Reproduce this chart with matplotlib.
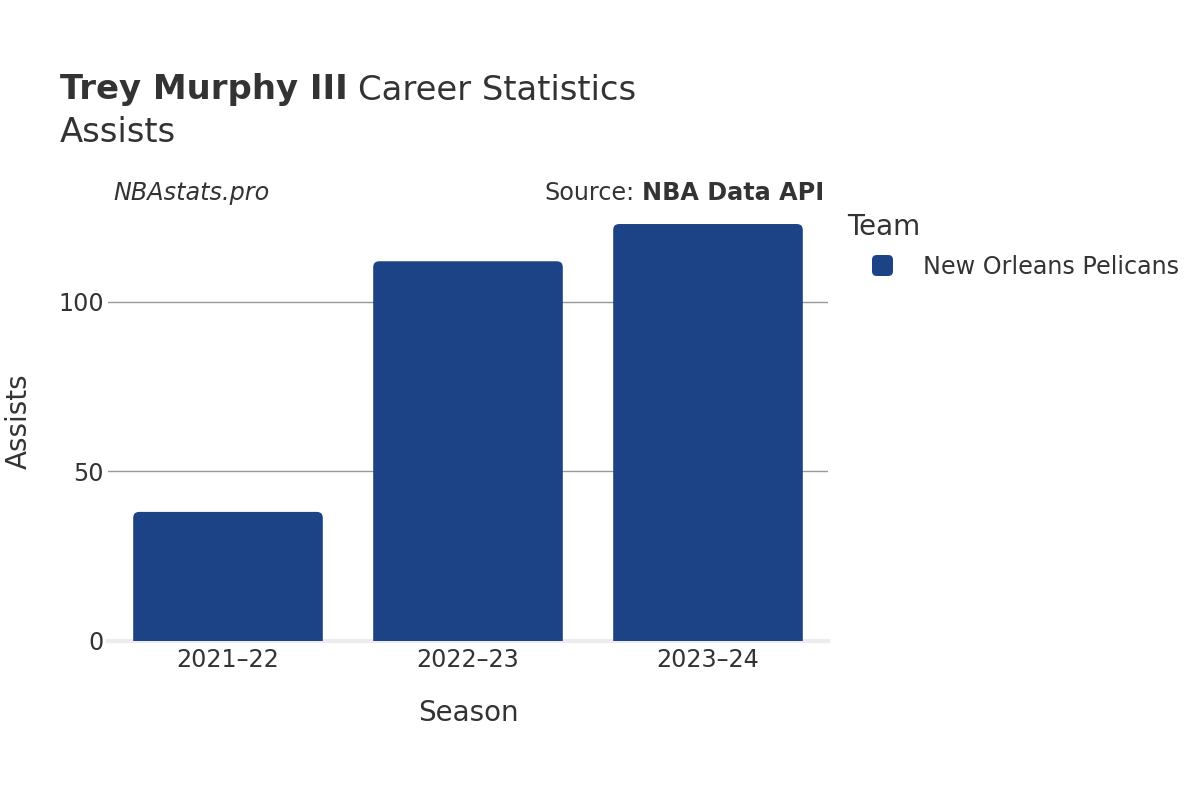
import matplotlib
matplotlib.use("Agg")
import matplotlib.pyplot as plt
from matplotlib.patches import FancyBboxPatch

seasons = ["2021–22", "2022–23", "2023–24"]
assists = [38, 112, 123]
team = "New Orleans Pelicans"
bar_color = "#1d4387"
text_color = "#333333"

plt.rcParams['font.family'] = ['DejaVu Sans']

fig = plt.figure(figsize=(12, 8), dpi=100)
ax = fig.add_axes([108/1200, 1 - 640.6/800, 720/1200, (640.6-202)/800])

x = list(range(len(seasons)))
ax.set_xlim(-0.5, len(seasons) - 0.5)
ax.set_ylim(0, 129.5)

bars = ax.bar(x, assists, width=0.79, color=bar_color)
fig.canvas.draw()
px_per_x = ax.transData.transform((1, 0))[0] - ax.transData.transform((0, 0))[0]
px_per_y = ax.transData.transform((0, 1))[1] - ax.transData.transform((0, 0))[1]
r_px = 6
r_x = r_px / px_per_x
aspect = (r_px / px_per_y) / r_x
for b in bars:
    bx, bw, bh = b.get_x(), b.get_width(), b.get_height()
    b.remove()
    p = FancyBboxPatch((bx, -5), bw, bh + 5,
                       boxstyle=f"round,pad=0,rounding_size={r_x}",
                       mutation_aspect=aspect, facecolor=bar_color,
                       edgecolor="none", zorder=2, clip_on=True)
    ax.add_patch(p)

for s in ax.spines.values():
    s.set_visible(False)
ax.set_yticks([0, 50, 100])
ax.yaxis.grid(True, color="#999999", linewidth=1)
ax.set_axisbelow(True)
ax.axhline(0, color="#ebebf0", linewidth=3, zorder=1, clip_on=False)
ax.tick_params(axis="both", length=0, labelsize=17.2, colors=text_color)
ax.tick_params(axis="y", pad=3)
ax.tick_params(axis="x", pad=5)
ax.set_xticks(x)
ax.set_xticklabels(seasons)
ax.set_xlabel("Season", fontsize=20, color=text_color, labelpad=20)
ax.set_ylabel("Assists", fontsize=20, color=text_color, labelpad=18)

renderer = fig.canvas.get_renderer()
t1 = fig.text(60/1200, 1 - 90/800, "Trey Murphy III", fontsize=24.4, fontweight="bold",
              color=text_color, va="center", ha="left")
bb = t1.get_window_extent(renderer=renderer)
fig.text(bb.x1/1200 + 10/1200, 1 - 90/800, "Career Statistics", fontsize=24.4,
         color=text_color, va="center", ha="left")
fig.text(60/1200, 1 - 133/800, "Assists", fontsize=24.4, color=text_color,
         va="center", ha="left")

fig.text(113/1200, 1 - 193/800, "NBAstats.pro", fontsize=17.2, style="italic",
         color=text_color, va="center", ha="left")
s2 = fig.text(824/1200, 1 - 193/800, "NBA Data API", fontsize=17.2, fontweight="bold",
              color=text_color, va="center", ha="right")
bb2 = s2.get_window_extent(renderer=renderer)
fig.text(bb2.x0/1200 - 7/1200, 1 - 193/800, "Source:", fontsize=17.2,
         color=text_color, va="center", ha="right")

fig.text(847/1200, 1 - 227/800, "Team", fontsize=20, color=text_color,
         va="center", ha="left")
fig.patches.append(FancyBboxPatch((872/1200, 1 - 276/800), 21/1200, 21/800,
                                  boxstyle="round,pad=0,rounding_size=0.004",
                                  mutation_aspect=1.5,
                                  transform=fig.transFigure, facecolor=bar_color,
                                  edgecolor="none", figure=fig))
fig.text(923/1200, 1 - 267/800, team, fontsize=17.2, color=text_color,
         va="center", ha="left")

fig.savefig("out.png", dpi=100)
